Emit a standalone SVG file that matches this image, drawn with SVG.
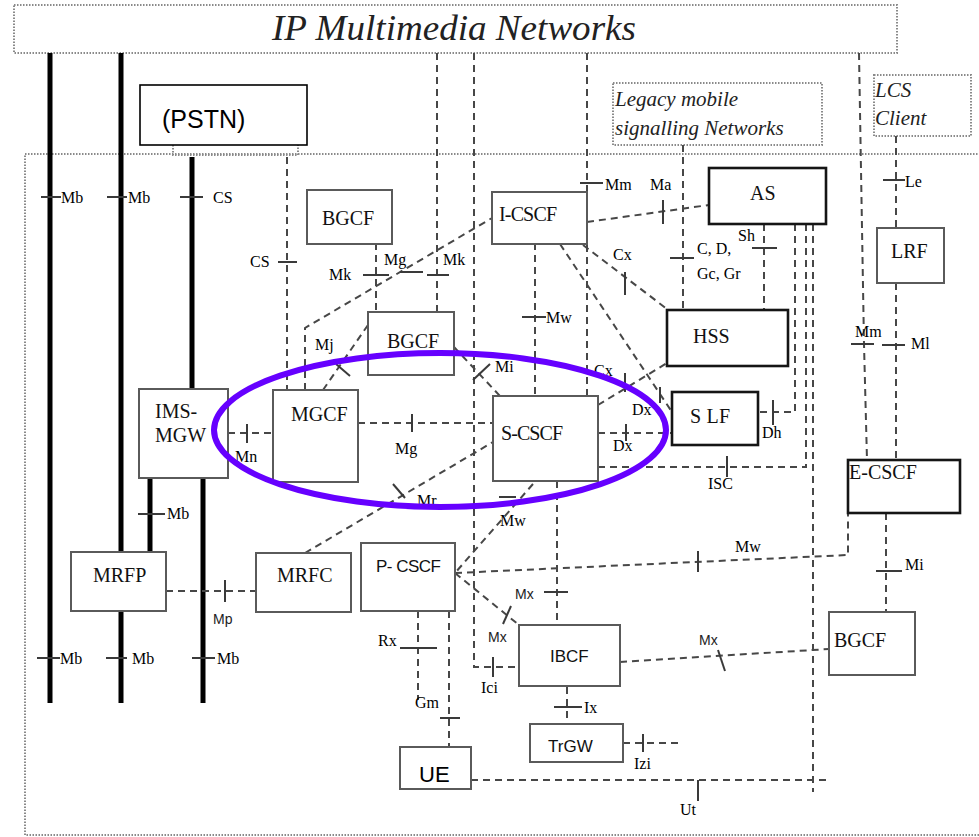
<svg xmlns="http://www.w3.org/2000/svg" width="979" height="837" viewBox="0 0 979 837">
<style>
.bg{fill:#fff}
.dot{fill:none;stroke:#8a8a8a;stroke-width:2;stroke-dasharray:1.5 1.5}
.box{fill:#fff;stroke:#5a5a5a;stroke-width:2}
.boxk{fill:#fff;stroke:#151515;stroke-width:2.6}
.dash{fill:none;stroke:#474747;stroke-width:2;stroke-dasharray:7 5}
.tick{fill:none;stroke:#3a3a3a;stroke-width:2}
.thick{stroke:#000;stroke-width:5}
.lbl{font-family:"Liberation Serif",serif;font-size:16px;fill:#000}
.lbls{font-family:"Liberation Sans",sans-serif;font-size:14px;fill:#222}
.nm{font-family:"Liberation Serif",serif;font-size:20px;fill:#111}
.nms{font-family:"Liberation Sans",sans-serif;font-size:17px;fill:#111}
.it{font-family:"Liberation Serif",serif;font-style:italic;fill:#222}
</style>
<rect class="bg" x="0" y="0" width="979" height="837"/>
<g id="regions">
<rect class="dot" x="25" y="154" width="960" height="681"/>
<rect class="dot" x="14" y="5" width="883" height="48" fill="#fff"/>
<text class="it" x="272" y="40" font-size="35" textLength="364" lengthAdjust="spacingAndGlyphs">IP Multimedia Networks</text>
<rect class="dot" x="613" y="83" width="209" height="62" fill="#fff"/>
<text class="it" x="615" y="106" font-size="21">Legacy mobile</text>
<text class="it" x="615" y="135" font-size="21">signalling Networks</text>
<rect class="dot" x="874" y="75" width="97" height="61" fill="#fff"/>
<text class="it" x="875" y="97" font-size="21">LCS</text>
<text class="it" x="875" y="125" font-size="21">Client</text>
<path class="dot" d="M173 145 V155 H298 V145"/>
</g>
<g id="connectors">
<line class="thick" x1="50" y1="53" x2="50" y2="703"/>
<line class="thick" x1="121" y1="53" x2="121" y2="703"/>
<line class="thick" x1="192" y1="157" x2="192" y2="389"/>
<line class="thick" x1="150" y1="478" x2="150" y2="552"/>
<line class="thick" x1="203" y1="478" x2="203" y2="703"/>
<line class="tick" x1="41" y1="197" x2="61" y2="197"/>
<line class="tick" x1="107" y1="197" x2="127" y2="197"/>
<line class="tick" x1="180" y1="197" x2="203" y2="197"/>
<line class="tick" x1="138" y1="514" x2="165" y2="514"/>
<line class="tick" x1="37" y1="658" x2="60" y2="658"/>
<line class="tick" x1="106" y1="658" x2="127" y2="658"/>
<line class="tick" x1="192" y1="658" x2="215" y2="658"/>
<line class="dash" x1="437" y1="53" x2="437" y2="312"/>
<polyline class="dash" points="474,53 474,667 519,667"/>
<line class="dash" x1="587" y1="53" x2="587" y2="396"/>
<polyline class="dash" points="859,53 864,344 867,460"/>
<line class="dash" x1="683" y1="145" x2="683" y2="309"/>
<line class="dash" x1="896" y1="136" x2="896" y2="228"/>
<line class="dash" x1="896" y1="283" x2="896" y2="460"/>
<line class="dash" x1="287" y1="157" x2="287" y2="390"/>
<line class="tick" x1="427" y1="275" x2="449" y2="275"/>
<line class="tick" x1="580" y1="183" x2="603" y2="183"/>
<line class="tick" x1="851" y1="344" x2="874" y2="344"/>
<line class="tick" x1="670" y1="258" x2="694" y2="258"/>
<line class="tick" x1="883" y1="180" x2="905" y2="180"/>
<line class="tick" x1="882" y1="345" x2="905" y2="345"/>
<line class="tick" x1="278" y1="262" x2="297" y2="262"/>
<line class="dash" x1="376" y1="243" x2="376" y2="312"/>
<line class="tick" x1="363" y1="275" x2="389" y2="275"/>
<polyline class="dash" points="305,390 305,328 492,218"/>
<line class="tick" x1="400" y1="272" x2="423" y2="272"/>
<line class="dash" x1="323" y1="390" x2="368" y2="325"/>
<polyline class="tick" points="336,364 343,370 350,376"/>
<line class="dash" x1="228" y1="433" x2="273" y2="433"/>
<line class="tick" x1="247" y1="424" x2="247" y2="443"/>
<line class="dash" x1="358" y1="423" x2="493" y2="423"/>
<line class="tick" x1="412" y1="414" x2="412" y2="432"/>
<line class="dash" x1="454" y1="347" x2="500" y2="396"/>
<line class="tick" x1="473" y1="380" x2="490" y2="364"/>
<line class="dash" x1="535" y1="243" x2="535" y2="396"/>
<line class="tick" x1="522" y1="317" x2="546" y2="317"/>
<line class="dash" x1="587" y1="222" x2="709" y2="205"/>
<line class="tick" x1="663" y1="200" x2="663" y2="224"/>
<line class="dash" x1="583" y1="245" x2="667" y2="309"/>
<line class="tick" x1="625" y1="272" x2="625" y2="295"/>
<line class="dash" x1="560" y1="244" x2="672" y2="412"/>
<line class="tick" x1="660" y1="387" x2="660" y2="403"/>
<line class="dash" x1="598" y1="405" x2="667" y2="363"/>
<line class="tick" x1="625" y1="373" x2="625" y2="392"/>
<line class="dash" x1="598" y1="433" x2="672" y2="433"/>
<line class="tick" x1="626" y1="424" x2="626" y2="441"/>
<line class="dash" x1="764" y1="224" x2="764" y2="318"/>
<line class="tick" x1="752" y1="248" x2="777" y2="248"/>
<polyline class="dash" points="795,224 795,412 758,412"/>
<line class="tick" x1="773" y1="400" x2="773" y2="425"/>
<polyline class="dash" points="806,224 806,467 598,467"/>
<line class="tick" x1="727" y1="456" x2="727" y2="477"/>
<line class="dash" x1="813" y1="224" x2="813" y2="792"/>
<line class="dash" x1="471" y1="780" x2="828" y2="780"/>
<line class="tick" x1="698" y1="780" x2="698" y2="801"/>
<polyline class="dash" points="455,573 848,555 848,513"/>
<line class="tick" x1="698" y1="551" x2="698" y2="572"/>
<line class="dash" x1="886" y1="513" x2="886" y2="612"/>
<line class="tick" x1="876" y1="571" x2="902" y2="571"/>
<line class="dash" x1="305" y1="553" x2="493" y2="442"/>
<line class="tick" x1="393" y1="484" x2="405" y2="498"/>
<line class="dash" x1="533" y1="484" x2="455" y2="573"/>
<line class="tick" x1="499" y1="497" x2="516" y2="497"/>
<line class="dash" x1="455" y1="573" x2="519" y2="625"/>
<line class="tick" x1="511" y1="606" x2="503" y2="624"/>
<line class="dash" x1="557" y1="481" x2="557" y2="625"/>
<line class="tick" x1="544" y1="592" x2="568" y2="592"/>
<line class="tick" x1="493" y1="657" x2="493" y2="677"/>
<line class="dash" x1="620" y1="662" x2="829" y2="649"/>
<line class="tick" x1="718" y1="650" x2="725" y2="671"/>
<line class="dash" x1="567" y1="687" x2="567" y2="724"/>
<line class="tick" x1="554" y1="707" x2="582" y2="707"/>
<line class="dash" x1="623" y1="743" x2="678" y2="743"/>
<line class="tick" x1="643" y1="734" x2="643" y2="752"/>
<line class="dash" x1="166" y1="591" x2="256" y2="591"/>
<line class="tick" x1="225" y1="580" x2="225" y2="602"/>
<line class="dash" x1="418" y1="611" x2="418" y2="700"/>
<line class="tick" x1="400" y1="648" x2="437" y2="648"/>
<line class="dash" x1="449" y1="611" x2="449" y2="747"/>
<line class="tick" x1="440" y1="718" x2="460" y2="718"/>
</g>
<g id="labels">
<text class="lbl" x="61" y="203">Mb</text>
<text class="lbl" x="128" y="203">Mb</text>
<text class="lbl" x="213" y="203">CS</text>
<text class="lbl" x="250" y="267">CS</text>
<text class="lbl" x="329" y="280">Mk</text>
<text class="lbl" x="384" y="265">Mg</text>
<text class="lbl" x="443" y="265">Mk</text>
<text class="lbl" x="605" y="190">Mm</text>
<text class="lbl" x="650" y="190">Ma</text>
<text class="lbl" x="738" y="241">Sh</text>
<text class="lbl" x="697" y="254" font-size="13">C, D,</text>
<text class="lbl" x="697" y="279" font-size="13">Gc, Gr</text>
<text class="lbl" x="613" y="260">Cx</text>
<text class="lbl" x="905" y="187">Le</text>
<text class="lbl" x="546" y="323">Mw</text>
<text class="lbl" x="315" y="350">Mj</text>
<text class="lbl" x="495" y="372">Mi</text>
<text class="lbl" x="594" y="376">Cx</text>
<text class="lbl" x="855" y="337">Mm</text>
<text class="lbl" x="911" y="349">Ml</text>
<text class="lbl" x="632" y="415">Dx</text>
<text class="lbl" x="762" y="438">Dh</text>
<text class="lbl" x="235" y="462">Mn</text>
<text class="lbl" x="395" y="454">Mg</text>
<text class="lbl" x="613" y="451">Dx</text>
<text class="lbl" x="708" y="489">ISC</text>
<text class="lbl" x="417" y="506">Mr</text>
<text class="lbl" x="500" y="526">Mw</text>
<text class="lbl" x="167" y="519">Mb</text>
<text class="lbl" x="735" y="552">Mw</text>
<text class="lbl" x="905" y="570">Mi</text>
<text class="lbls" x="213" y="624">Mp</text>
<text class="lbls" x="515" y="599">Mx</text>
<text class="lbls" x="488" y="642">Mx</text>
<text class="lbl" x="378" y="646">Rx</text>
<text class="lbl" x="481" y="693">Ici</text>
<text class="lbls" x="699" y="645">Mx</text>
<text class="lbl" x="415" y="708">Gm</text>
<text class="lbl" x="584" y="713">Ix</text>
<text class="lbl" x="634" y="769">Izi</text>
<text class="lbl" x="680" y="815">Ut</text>
<text class="lbl" x="60" y="664">Mb</text>
<text class="lbl" x="132" y="664">Mb</text>
<text class="lbl" x="217" y="664">Mb</text>
</g>
<g id="PSTN"><rect x="140" y="85" width="167" height="60" fill="#fff" stroke="#000" stroke-width="1.6"/><text x="162" y="128" font-family="Liberation Sans, sans-serif" font-size="25">(PSTN)</text></g>
<g id="BGCF1"><rect class="box" x="307" y="190" width="85" height="54"/><text class="nm" x="322" y="225">BGCF</text></g>
<g id="ICSCF"><rect class="box" x="492" y="192" width="95" height="52"/><text class="nm" x="499" y="221" font-size="17" textLength="58">I-CSCF</text></g>
<g id="AS"><rect class="boxk" x="709" y="168" width="117" height="56"/><text class="nm" x="750" y="200" font-size="19">AS</text></g>
<g id="LRF"><rect class="box" x="877" y="228" width="67" height="55"/><text class="nm" x="891" y="258">LRF</text></g>
<g id="HSS"><rect class="boxk" x="667" y="310" width="121" height="56"/><text class="nm" x="693" y="343">HSS</text></g>
<g id="BGCF2"><rect class="box" x="368" y="312" width="86" height="63"/><text class="nm" x="387" y="348">BGCF</text></g>
<g id="IMSMGW"><rect class="box" x="139" y="389" width="89" height="89"/><text class="nm" x="155" y="418" font-size="16">IMS-</text><text class="nm" x="155" y="442" font-size="16">MGW</text></g>
<g id="MGCF"><rect class="box" x="273" y="390" width="85" height="92"/><text class="nm" x="291" y="421" font-size="17">MGCF</text></g>
<g id="SCSCF"><rect class="box" x="493" y="396" width="105" height="85"/><text class="nm" x="501" y="440" font-size="17" textLength="62">S-CSCF</text></g>
<g id="SLF"><rect class="boxk" x="672" y="392" width="86" height="53"/><text class="nm" x="690" y="423" textLength="40">S LF</text></g>
<g id="ECSCF"><rect class="boxk" x="848" y="460" width="112" height="53" stroke-width="3"/><text class="nm" x="849" y="479" font-size="22">E-CSCF</text></g>
<g id="MRFP"><rect class="box" x="71" y="552" width="95" height="59"/><text class="nm" x="93" y="582" font-size="16">MRFP</text></g>
<g id="MRFC"><rect class="box" x="256" y="553" width="95" height="59"/><text class="nm" x="277" y="582" font-size="16">MRFC</text></g>
<g id="PCSCF"><rect class="box" x="361" y="543" width="94" height="68"/><text class="nms" x="376" y="572" textLength="65">P- CSCF</text></g>
<g id="IBCF"><rect class="box" x="519" y="625" width="101" height="61"/><text class="nms" x="550" y="662">IBCF</text></g>
<g id="BGCF3"><rect class="box" x="829" y="612" width="86" height="63"/><text class="nm" x="834" y="647" font-size="22">BGCF</text></g>
<g id="TrGW"><rect class="box" x="530" y="724" width="93" height="38"/><text class="nms" x="548" y="752">TrGW</text></g>
<g id="UE"><rect class="box" x="400" y="747" width="71" height="42"/><text x="419" y="782" font-family="Liberation Sans, sans-serif" font-size="22">UE</text></g>
<g id="highlight"><ellipse cx="440" cy="430" rx="226" ry="77" fill="none" stroke="#6600ff" stroke-width="6"/></g>
</svg>
